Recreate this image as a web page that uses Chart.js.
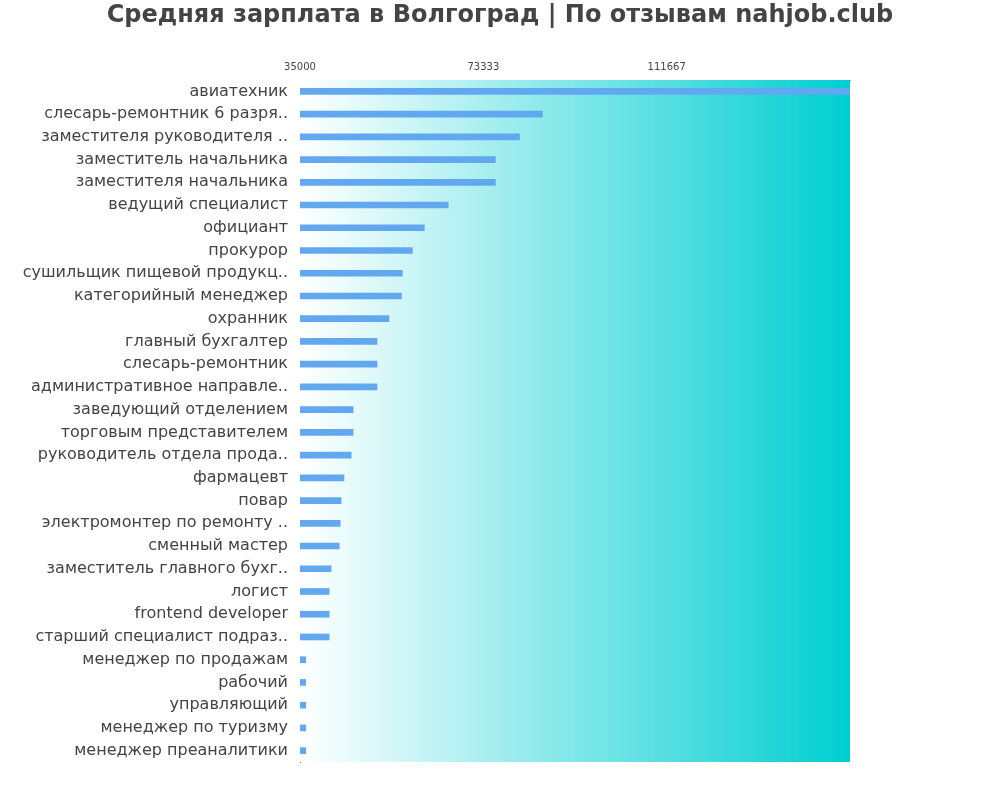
<!DOCTYPE html>
<html><head><meta charset="utf-8">
<script src="https://cdn.jsdelivr.net/npm/chart.js@4"></script>
<style>body{margin:0;background:#fff}#w{width:1000px;height:800px}</style>
</head><body><div id="w"><canvas id="c"></canvas></div>
<script>
const categories=["авиатехник","слесарь-ремонтник 6 разря..","заместителя руководителя ..","заместитель начальника","заместителя начальника","ведущий специалист","официант","прокурор","сушильщик пищевой продукц..","категорийный менеджер","охранник","главный бухгалтер","слесарь-ремонтник","административное направле..","заведующий отделением","торговым представителем","руководитель отдела прода..","фармацевт","повар","электромонтер по ремонту ..","сменный мастер","заместитель главного бухг..","логист","frontend developer","старший специалист подраз..","менеджер по продажам","рабочий","управляющий","менеджер по туризму","менеджер преаналитики"];
const salaries=[150000,85700,80900,75850,75850,66000,61000,58500,56400,56200,53600,51100,51100,51100,46100,46100,45700,44200,43600,43400,43200,41500,41100,41100,41100,36200,36200,36200,36200,36200];
const tickValues=[35000,73333,111667];
const titleText='Средняя зарплата в Волгоград | По отзывам nahjob.club';
const bg={id:'bg',beforeDatasetsDraw(c){const a=c.chartArea,x=c.ctx;const g=x.createLinearGradient(a.left,0,a.right,0);g.addColorStop(0,'#ffffff');g.addColorStop(1,'#00ced1');x.save();x.fillStyle=g;x.fillRect(a.left,a.top,a.right-a.left,a.bottom-a.top);x.restore();},
afterDraw(c){const x=c.ctx;x.save();x.font='bold 24px "DejaVu Sans"';x.fillStyle='#444';x.textAlign='center';x.textBaseline='middle';x.fillText(titleText,500,16);x.restore();}};
new Chart(document.getElementById('c'),{type:'bar',plugins:[bg],
data:{labels:categories,datasets:[{data:salaries,backgroundColor:'#62a8f0',barThickness:6,base:35000}]},
options:{indexAxis:'y',responsive:true,maintainAspectRatio:false,animation:false,
layout:{padding:{right:150,bottom:38,top:59}},
plugins:{legend:{display:false},tooltip:{enabled:false},title:{display:false}},
scales:{x:{position:'top',min:35000,max:150000,afterBuildTicks(s){s.ticks=tickValues.map(v=>({value:v}));},
ticks:{color:'#444',font:{size:10,family:'DejaVu Sans'},maxRotation:0,padding:2,callback:v=>String(v)},grid:{display:false,drawTicks:true,tickLength:5},border:{color:'#999'}},
y:{afterFit(s){s.width=300;},ticks:{color:'#444',font:{size:16,family:'DejaVu Sans'},padding:12},grid:{display:false,drawTicks:false},border:{color:'#999'}}}}});
</script></body></html>
